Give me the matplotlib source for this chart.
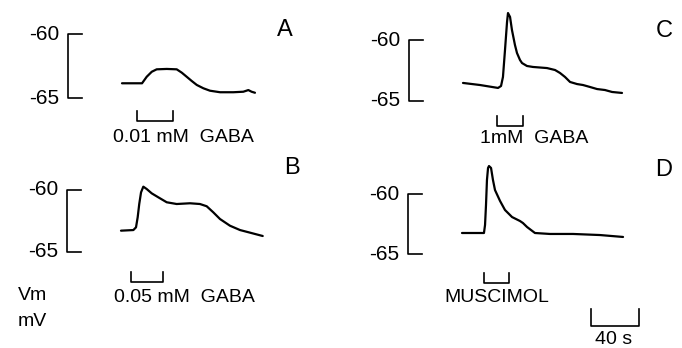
import numpy as np
import matplotlib
matplotlib.use('Agg')
import matplotlib.pyplot as plt

W, H = 682, 348
PX_PER_S = 1.2          # 40 s scale bar is 48 px wide
FONT = 'Liberation Sans'

# traces: time (s) from start of each record, membrane potential (mV)
t_a = [0, 16.7, 20.6, 24.8, 28.9, 37.3, 45.6, 49.8, 53.9, 58.1, 62.3, 67.8,
       73.3, 81.7, 92.8, 101.1, 105.3, 108.0, 110.8]
v_a = [-63.85, -63.85, -63.34, -62.95, -62.76, -62.73, -62.76, -63.02, -63.34,
       -63.67, -63.98, -64.24, -64.43, -64.55, -64.55, -64.51, -64.38, -64.51, -64.59]

t_b = [0, 10.3, 12.5, 13.9, 15.2, 16.7, 18.6, 21.4, 25.6, 31.1, 38.1, 46.4,
       57.5, 65.8, 71.4, 76.9, 82.5, 90.8, 99.2, 107.5, 118.1]
v_b = [-63.28, -63.23, -63.01, -62.20, -61.13, -60.19, -59.73, -59.92, -60.27,
       -60.59, -60.99, -61.13, -61.07, -61.13, -61.31, -61.80, -62.34, -62.88,
       -63.23, -63.44, -63.71]

t_c = [0, 14.2, 29.2, 31.7, 33.3, 35.0, 36.7, 37.5, 39.2, 40.8, 43.3, 45.0,
       47.5, 49.2, 53.3, 58.3, 70.0, 76.7, 80.8, 85.0, 89.2, 95.0, 100.0,
       105.8, 111.7, 118.3, 124.2, 132.5]
v_c = [-63.52, -63.69, -63.93, -63.77, -63.03, -60.82, -58.52, -57.79, -58.11,
       -59.18, -60.41, -61.07, -61.64, -61.89, -62.13, -62.21, -62.30, -62.46,
       -62.70, -63.03, -63.44, -63.61, -63.69, -63.85, -64.02, -64.10, -64.26,
       -64.34]

t_d = [0, 10.8, 18.3, 19.2, 20.0, 20.8, 21.7, 22.5, 24.2, 25.8, 27.5, 31.7,
       35.8, 41.7, 48.3, 50.8, 54.2, 60.8, 73.3, 92.5, 115.0, 134.2]
v_d = [-63.25, -63.25, -63.25, -62.58, -60.92, -58.83, -57.83, -57.67, -57.83,
       -58.83, -59.67, -60.58, -61.33, -61.92, -62.25, -62.42, -62.75, -63.25,
       -63.33, -63.33, -63.42, -63.58]

# drug application periods (s)
stim_a = (12.5, 42.5)
stim_b = (8.3, 35.0)
stim_c = (28.3, 50.0)
stim_d = (18.3, 39.2)

labels = ['0.01 mM  GABA', '0.05 mM  GABA', '1mM  GABA', 'MUSCIMOL']
letters = ['A', 'B', 'C', 'D']
scale_mv = (-60, -65)
time_bar = 40

# layout: (trace start px, y px of -60, px per mV, stim bracket y px, label x px, label y px,
#          letter x px, letter y px)
panels = [
    (122, 34, 12.8, 121, 113, 138, 285, 30),
    (121, 190, 12.4, 282, 114, 297, 292, 168),
    (463, 40, 12.2, 126, 480, 139, 664, 31),
    (462, 194, 12.0, 283, 444, 298, 664, 170),
]
traces = [(t_a, v_a), (t_b, v_b), (t_c, v_c), (t_d, v_d)]
stims = [stim_a, stim_b, stim_c, stim_d]

fig = plt.figure(figsize=(W / 100, H / 100), dpi=100)


def fx(x):
    return x / W


def fy(y):
    return 1 - y / H


axes = []
for (x0, y60, ppm, sy, lx, ly, cx, cy), (t, v), stim, lab, let in zip(panels, traces, stims, labels, letters):
    ax = fig.add_axes([0, 0, 1, 1])
    ax.set_xlim(-x0 / PX_PER_S, (W - x0) / PX_PER_S)
    ax.set_ylim(-60 - (H - y60) / ppm, -60 + y60 / ppm)
    ax.axis('off')
    ax.patch.set_alpha(0)

    ax.plot(t, v, color='black', lw=1.6, solid_capstyle='round', solid_joinstyle='round')

    # vertical mV bracket
    bx = -45.0
    ax.plot([bx + 12, bx, bx, bx + 12], [scale_mv[0], scale_mv[0], scale_mv[1], scale_mv[1]],
            color='black', lw=1.2)
    for val in scale_mv:
        ax.text(bx - 7, val, '-%d' % abs(val), ha='right', va='center',
                fontsize=15, family=FONT)

    # drug application bracket
    tr = ax.get_xaxis_transform()
    ax.plot([stim[0], stim[0], stim[1], stim[1]], [fy(sy - 10), fy(sy), fy(sy), fy(sy - 10)],
            color='black', lw=1.2, transform=tr)

    fig.text(fx(lx), fy(ly), lab, ha='left', va='center', fontsize=14, family=FONT)
    fig.text(fx(cx), fy(cy), let, ha='center', va='center', fontsize=17, family=FONT)
    axes.append(ax)

# time scale bar in panel D
ax = axes[3]
tr = ax.get_xaxis_transform()
t1 = (591 - 462) / PX_PER_S
ax.plot([t1, t1, t1 + time_bar, t1 + time_bar], [fy(309), fy(326), fy(326), fy(309)],
        color='black', lw=1.2, transform=tr)
fig.text(fx(614), fy(339), '40 s', ha='center', va='center', fontsize=14, family=FONT)

fig.text(fx(18), fy(296), 'Vm', ha='left', va='center', fontsize=14, family=FONT)
fig.text(fx(18), fy(322), 'mV', ha='left', va='center', fontsize=14, family=FONT)

fig.savefig('out.png', dpi=100)
